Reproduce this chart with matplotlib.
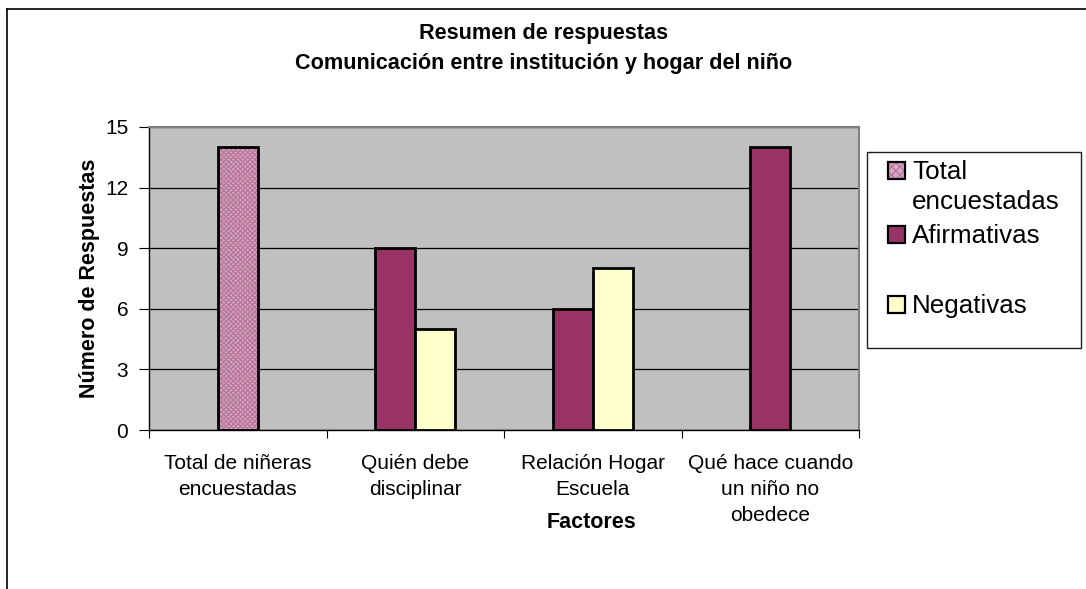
import matplotlib
matplotlib.use("Agg")
import matplotlib.pyplot as plt
import numpy as np
from matplotlib.patches import Rectangle
from matplotlib.lines import Line2D

categories = ["Total de niñeras\nencuestadas", "Quién debe\ndisciplinar",
              "Relación Hogar\nEscuela", "Qué hace cuando\nun niño no\nobedece"]
series_names = ["Total\nencuestadas", "Afirmativas", "Negativas"]
total = [14, None, None, None]
afirmativas = [None, 9, 6, 14]
negativas = [None, 5, 8, None]
yticks = [0, 3, 6, 9, 12, 15]

plt.rcParams['font.family'] = ['Liberation Sans', 'DejaVu Sans']
W, H = 1086, 589
fig = plt.figure(figsize=(W / 100, H / 100), dpi=100)
fig.patch.set_facecolor('white')


def fx(px):
    return px / W


def fy(py):
    return 1 - py / H


# outer chart border
fig.add_artist(Line2D([fx(7), fx(7)], [0, fy(9)], color='black', lw=1.2))
fig.add_artist(Line2D([fx(7), 1], [fy(9), fy(9)], color='black', lw=1.2))

ax = fig.add_axes([fx(149), fy(430), fx(710), 303 / H])
ax.set_facecolor('#C0C0C0')

series = [total, afirmativas, negativas]
colors = ['#D9A7C4', '#993366', '#FFFFCC']
hatch_color = '#B77A9C'
bw = 0.225
for i in range(len(categories)):
    present = [s for s in range(3) if series[s][i] is not None]
    n = len(present)
    for k, s in enumerate(present):
        x = i + (k - (n - 1) / 2) * bw
        v = series[s][i]
        if s == 0:
            ax.bar(x, v, bw, color=colors[0], edgecolor=hatch_color, hatch='xxxxxxx', lw=0, zorder=3)
            ax.bar(x, v, bw, fill=False, edgecolor='black', lw=2, zorder=4)
        else:
            ax.bar(x, v, bw, color=colors[s], edgecolor='black', lw=2, zorder=3)

ax.set_xlim(-0.5, len(categories) - 0.5)
ax.set_ylim(0, 15)
ax.set_yticks(yticks)
ax.set_yticklabels([str(t) for t in yticks], fontsize=15)
ax.yaxis.grid(True, color='black', lw=0.9, zorder=1)
ax.set_axisbelow(True)
ax.set_xticks(np.arange(-0.5, len(categories), 1.0))
ax.set_xticklabels([])
ax.set_xticks(np.arange(len(categories)), minor=True)
ax.set_xticklabels(categories, minor=True, fontsize=15, linespacing=1.48)
ax.tick_params(axis='x', which='minor', length=0, pad=17)
ax.tick_params(axis='x', which='major', length=6, direction='out', color='black')
ax.tick_params(axis='y', length=7, direction='out', pad=8)
for sp in ['top', 'right']:
    ax.spines[sp].set_color('#808080')
    ax.spines[sp].set_linewidth(1.5)
for sp in ['left', 'bottom']:
    ax.spines[sp].set_color('black')
    ax.spines[sp].set_linewidth(1.0)

fig.text(fx(89), fy(278), "Número de Respuestas", rotation=90, ha='center', va='center',
         fontsize=15.5, fontweight='bold')
fig.text(fx(592), fy(523), "Factores", ha='center', va='center',
         fontsize=15.5, fontweight='bold')

fig.text(fx(544), fy(33), "Resumen de respuestas", ha='center', va='center',
         fontsize=15.6, fontweight='bold')
fig.text(fx(544), fy(63), "Comunicación entre institución y hogar del niño", ha='center',
         va='center', fontsize=15.6, fontweight='bold')

# legend (drawn as an Excel-style box)
fig.add_artist(Rectangle((fx(867), fy(348)), fx(1081 - 867), (348 - 152) / H,
                         transform=fig.transFigure, facecolor='white',
                         edgecolor='#202020', lw=1.0))
sq_tops = [162, 226, 296]
text_baselines = [[179, 209], [243], [313]]
for s in range(3):
    y0 = fy(sq_tops[s] + 17)
    if s == 0:
        fig.add_artist(Rectangle((fx(888), y0), fx(17), 17 / H, transform=fig.transFigure,
                                 facecolor=colors[0], edgecolor=hatch_color, hatch='xxxx', lw=0))
        fig.add_artist(Rectangle((fx(888), y0), fx(17), 17 / H, transform=fig.transFigure,
                                 fill=False, edgecolor='black', lw=1.6))
    else:
        fig.add_artist(Rectangle((fx(888), y0), fx(17), 17 / H, transform=fig.transFigure,
                                 facecolor=colors[s], edgecolor='black', lw=1.6))
    for line, bl in zip(series_names[s].split("\n"), text_baselines[s]):
        fig.text(fx(912), fy(bl), line, ha='left', va='baseline', fontsize=18.7)

fig.savefig("out.png", dpi=100, facecolor='white')
